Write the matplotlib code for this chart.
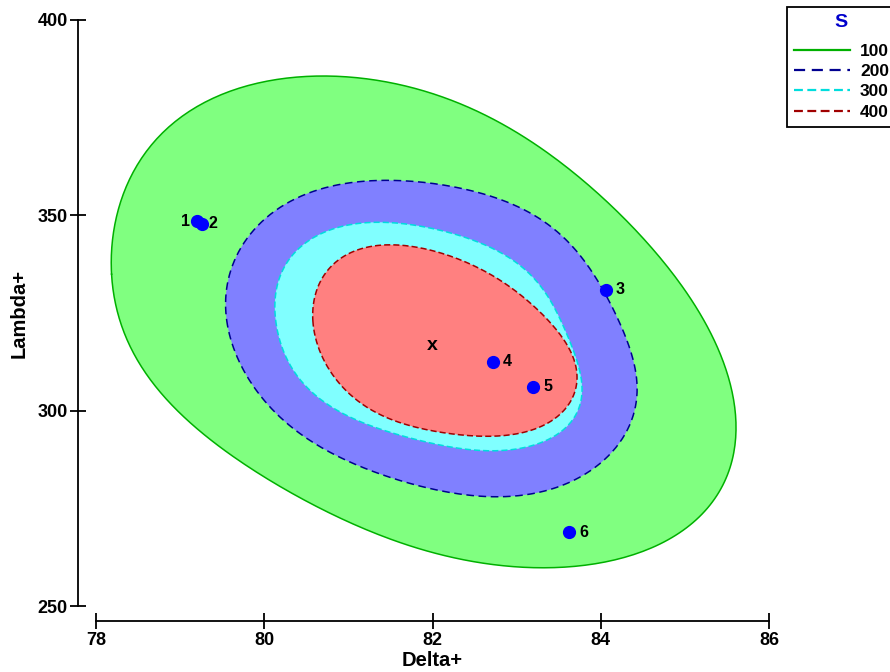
import numpy as np
import matplotlib
matplotlib.use('Agg')
import matplotlib.pyplot as plt
from matplotlib.lines import Line2D

plt.rcParams['font.family'] = ['Liberation Sans', 'DejaVu Sans']
plt.rcParams['font.weight'] = 'bold'

# contour boundaries (Delta+, Lambda+), going round each one
s100_x = [78.18, 78.25, 78.52, 79.12, 79.91, 81.10, 82.21, 83.16, 83.76, 84.47, 85.10, 85.50, 85.60,
          85.57, 85.50, 85.22, 84.86, 84.47, 84.08, 83.67, 83.28, 82.68, 82.09, 80.90, 80.31, 79.71,
          79.12, 78.52, 78.29]
s100_y = [335.2, 325.8, 311.2, 296.9, 284.8, 270.2, 262.3, 260.3, 260.5, 263.6, 271.3, 281.5, 292.5,
          300.2, 308.6, 325.8, 333.5, 344.5, 353.9, 361.1, 367.5, 374.9, 380.3, 385.7, 385.2, 382.6,
          377.0, 364.2, 351.4]

s200_x = [79.53, 79.63, 79.91, 80.51, 81.29, 82.21, 82.89, 83.48, 83.99, 84.37, 84.43,
          84.39, 84.15, 83.96, 83.48, 82.89, 82.09, 81.50, 80.31, 79.80, 79.56]
s200_y = [323.2, 317.3, 305.3, 292.5, 284.8, 278.9, 277.9, 280.5, 286.6, 297.6, 306.1,
          313.0, 325.8, 333.5, 345.5, 353.9, 357.5, 359.0, 353.9, 343.7, 331.7]

s300_x = [80.13, 80.31, 80.70, 81.50, 82.21, 82.68, 83.28, 83.67, 83.78, 83.67, 83.47,
          83.20, 82.68, 82.09, 81.50, 80.70, 80.31, 80.15]
s300_y = [323.2, 311.2, 302.7, 294.3, 290.7, 289.9, 291.7, 297.6, 306.1, 315.5, 325.3,
          334.2, 341.9, 346.0, 348.3, 345.5, 339.3, 330.1]

s400_x = [80.57, 80.70, 81.02, 81.50, 82.21, 82.68, 83.36, 83.67, 83.70, 83.60, 83.34,
          83.12, 82.68, 82.09, 81.70, 81.10, 80.78, 80.63]
s400_y = [323.2, 313.0, 304.5, 297.6, 294.3, 293.3, 296.9, 302.7, 308.6, 317.3, 323.7,
          328.3, 335.2, 340.1, 342.4, 341.1, 336.8, 330.1]

pt_names = ['1', '2', '3', '4', '5', '6']
pt_x = [79.20, 79.26, 84.06, 82.72, 83.20, 83.62]
pt_y = [348.5, 347.9, 330.9, 312.5, 306.1, 268.9]
centre_x, centre_y = 82.0, 316.6


def closed_curve(xs, ys, order=5, n=400):
    # smooth outline: fourier fit of x(t), y(t) with t = chord length round the loop
    x = np.asarray(xs)
    y = np.asarray(ys)
    mx, my = x.mean(), y.mean()
    sx, sy = x.std(), y.std()
    u = (x - mx) / sx
    v = (y - my) / sy
    seg = np.hypot(np.diff(np.append(u, u[0])), np.diff(np.append(v, v[0])))
    t = np.concatenate([[0], np.cumsum(seg)[:-1]]) / seg.sum() * 2 * np.pi

    def design(a):
        cols = [np.ones_like(a)]
        for k in range(1, order + 1):
            cols += [np.cos(k * a), np.sin(k * a)]
        return np.column_stack(cols)

    cu, *_ = np.linalg.lstsq(design(t), u, rcond=None)
    cv, *_ = np.linalg.lstsq(design(t), v, rcond=None)
    tt = np.linspace(0, 2 * np.pi, n)
    return mx + sx * (design(tt) @ cu), my + sy * (design(tt) @ cv)


fig = plt.figure(figsize=(8.9, 6.72), dpi=100)
ax = fig.add_axes([96 / 890, 1 - 606 / 672, (769 - 96) / 890, (606 - 20) / 672])

levels = [
    (s100_x, s100_y, '#80ff80', '#00b000', '-'),
    (s200_x, s200_y, '#8080ff', '#000090', (0, (5, 3))),
    (s300_x, s300_y, '#80ffff', '#00dddd', (0, (4, 2))),
    (s400_x, s400_y, '#ff8080', '#a00000', (0, (4, 2))),
]
for xs, ys, fc, ec, ls in levels:
    cx, cy = closed_curve(xs, ys)
    ax.fill(cx, cy, facecolor=fc, edgecolor='none')
    ax.plot(cx, cy, color=ec, linestyle=ls, lw=1.1)

ax.plot(pt_x, pt_y, 'o', color='#0000ff', ms=8.5, zorder=5)
for name, x, y in zip(pt_names, pt_x, pt_y):
    if name == '1':
        ax.text(x - 0.08, y, name, ha='right', va='center', fontsize=11.5, fontweight='bold')
    elif name == '2':
        ax.text(x + 0.08, y, name, ha='left', va='center', fontsize=11.5, fontweight='bold')
    else:
        ax.text(x + 0.12, y, name, ha='left', va='center', fontsize=11.5, fontweight='bold')
ax.text(centre_x, centre_y, 'x', ha='center', va='center', fontsize=14, fontweight='bold')

ax.set_xlim(78, 86)
ax.set_ylim(250, 400)
ax.set_xticks([78, 80, 82, 84, 86])
ax.set_yticks([250, 300, 350, 400])
for side in ['top', 'right']:
    ax.spines[side].set_visible(False)
ax.spines['left'].set_position(('outward', 13))
ax.spines['bottom'].set_position(('outward', 11))
for side in ['left', 'bottom']:
    ax.spines[side].set_linewidth(1.3)
ax.tick_params(direction='inout', length=11, width=1.3, labelsize=13, pad=2)
ax.set_facecolor('none')
ax.set_xlabel('Delta+', fontsize=14.5, fontweight='bold', labelpad=2)
ax.set_ylabel('Lambda+', fontsize=14.5, fontweight='bold', labelpad=6)

handles = [Line2D([], [], color=ec, linestyle=ls, lw=1.6) for _, _, _, ec, ls in levels]
leg = fig.legend(handles, ['100', '200', '300', '400'], title='S', loc='upper left',
                 bbox_to_anchor=(787 / 890, 1 - 7 / 672), fontsize=12.5, handlelength=3.2,
                 fancybox=False, edgecolor='black', framealpha=1, borderaxespad=0,
                 labelspacing=0.3, handletextpad=0.6)
leg._legend_box.sep = 9
leg.get_frame().set_linewidth(1.3)
leg.get_title().set_color('#0000cc')
leg.get_title().set_fontsize(14)
leg.get_title().set_fontweight('bold')

fig.savefig('out.png', dpi=100)
